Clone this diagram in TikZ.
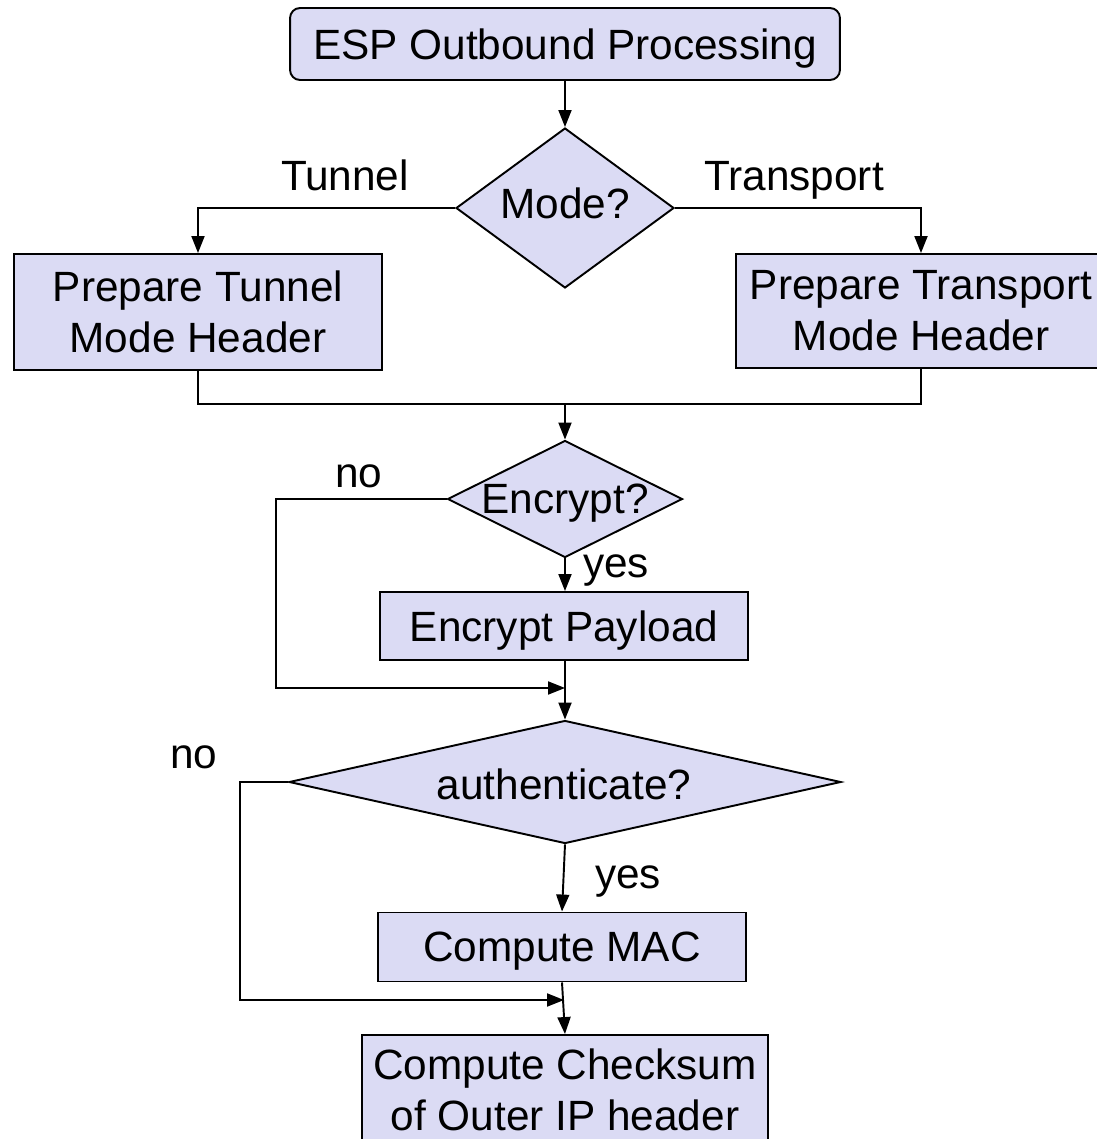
\documentclass[tikz,border=0pt]{standalone}
\usepackage{fontspec}
\setmainfont{Liberation Sans}
\usetikzlibrary{shapes.geometric,arrows.meta}
\definecolor{boxfill}{RGB}{219,219,244}
\tikzset{
  base/.style={draw=black,line width=1.1pt,fill=boxfill},
  procbox/.style={base,rectangle,inner sep=0pt,align=center},
  onebox/.style={procbox,text depth=0pt},
  decision/.style={base,diamond,inner sep=0pt},
  txt/.style={inner sep=0pt,align=center,font=\fontsize{24.1}{29}\selectfont},
  conn/.style={line width=1.1pt},
  arr/.style={conn,-{Triangle[length=0.34cm,width=0.26cm]}},
}
\begin{document}
\begin{tikzpicture}[x=0.02cm,y=-0.02cm]
\useasboundingbox (0,0) rectangle (1097,1139);
% boxes
\node[onebox,rounded corners=0.2cm,minimum width=11cm,minimum height=1.44cm,txt] (top) at (565,44) {ESP Outbound Processing};
\node[decision,minimum width=4.36cm,minimum height=3.2cm] (mode) at (565,208) {};
\node[txt] (modet) at (565,203) {Mode?};
\node[procbox,minimum width=7.36cm,minimum height=2.32cm,txt] (tun) at (198,312) {Prepare Tunnel\\Mode Header};
\node[procbox,minimum width=7.4cm,minimum height=2.28cm,txt] (tra) at (921,311) {Prepare Transport\\Mode Header};
\node[decision,minimum width=4.7cm,minimum height=2.34cm] (enc) at (565,499) {};
\node[txt] (enct) at (565,503) {Encrypt?};
\node[onebox,minimum width=7.36cm,minimum height=1.36cm,txt] (encp) at (564,626) {Encrypt Payload};
\node[decision,minimum width=11.04cm,minimum height=2.46cm] (auth) at (565,782) {};
\node[txt] (autht) at (564,784) {authenticate?};
\node[onebox,minimum width=7.36cm,minimum height=1.38cm,txt] (mac) at (562,947) {Compute MAC};
\node[procbox,minimum width=8.12cm,minimum height=2.2cm,txt] (chk) at (565,1090) {Compute Checksum\\of Outer IP header};
% labels
\node[txt,anchor=base] (ltun) at (345,190) {Tunnel};
\node[txt,anchor=base] (ltra) at (794,190) {Transport};
\node[txt,anchor=base] (lno1) at (359,487) {no};
\node[txt,anchor=base] (lyes1) at (616,577) {yes};
\node[txt,anchor=base] (lno2) at (194,768) {no};
\node[txt,anchor=base] (lyes2) at (628,888) {yes};
% coordinates
\coordinate (mrg) at (565,404);
\coordinate (j1) at (565,688);
\coordinate (j2) at (564,1000);
% connectors
\draw[arr] (top.south) -- (mode.north);
\draw[arr] (mode.west) -| (tun.north);
\draw[arr] (mode.east) -| (tra.north);
\draw[conn] (tun.south) |- (mrg) -| (tra.south);
\draw[arr] (mrg) -- (enc.north);
\draw[arr] (enc.south) -- (enc.south |- encp.north);
\draw[arr] (enc.west) -| (276,600) |- (j1);
\draw[conn] (j1 |- encp.south) -- (j1);
\draw[arr] (j1) -- (auth.north);
\draw[arr] (auth.south) -- (mac.north);
\draw[arr] (auth.west) -| (240,900) |- (j2);
\draw[arr] (mac.south) -- (chk.north);
\end{tikzpicture}
\end{document}
